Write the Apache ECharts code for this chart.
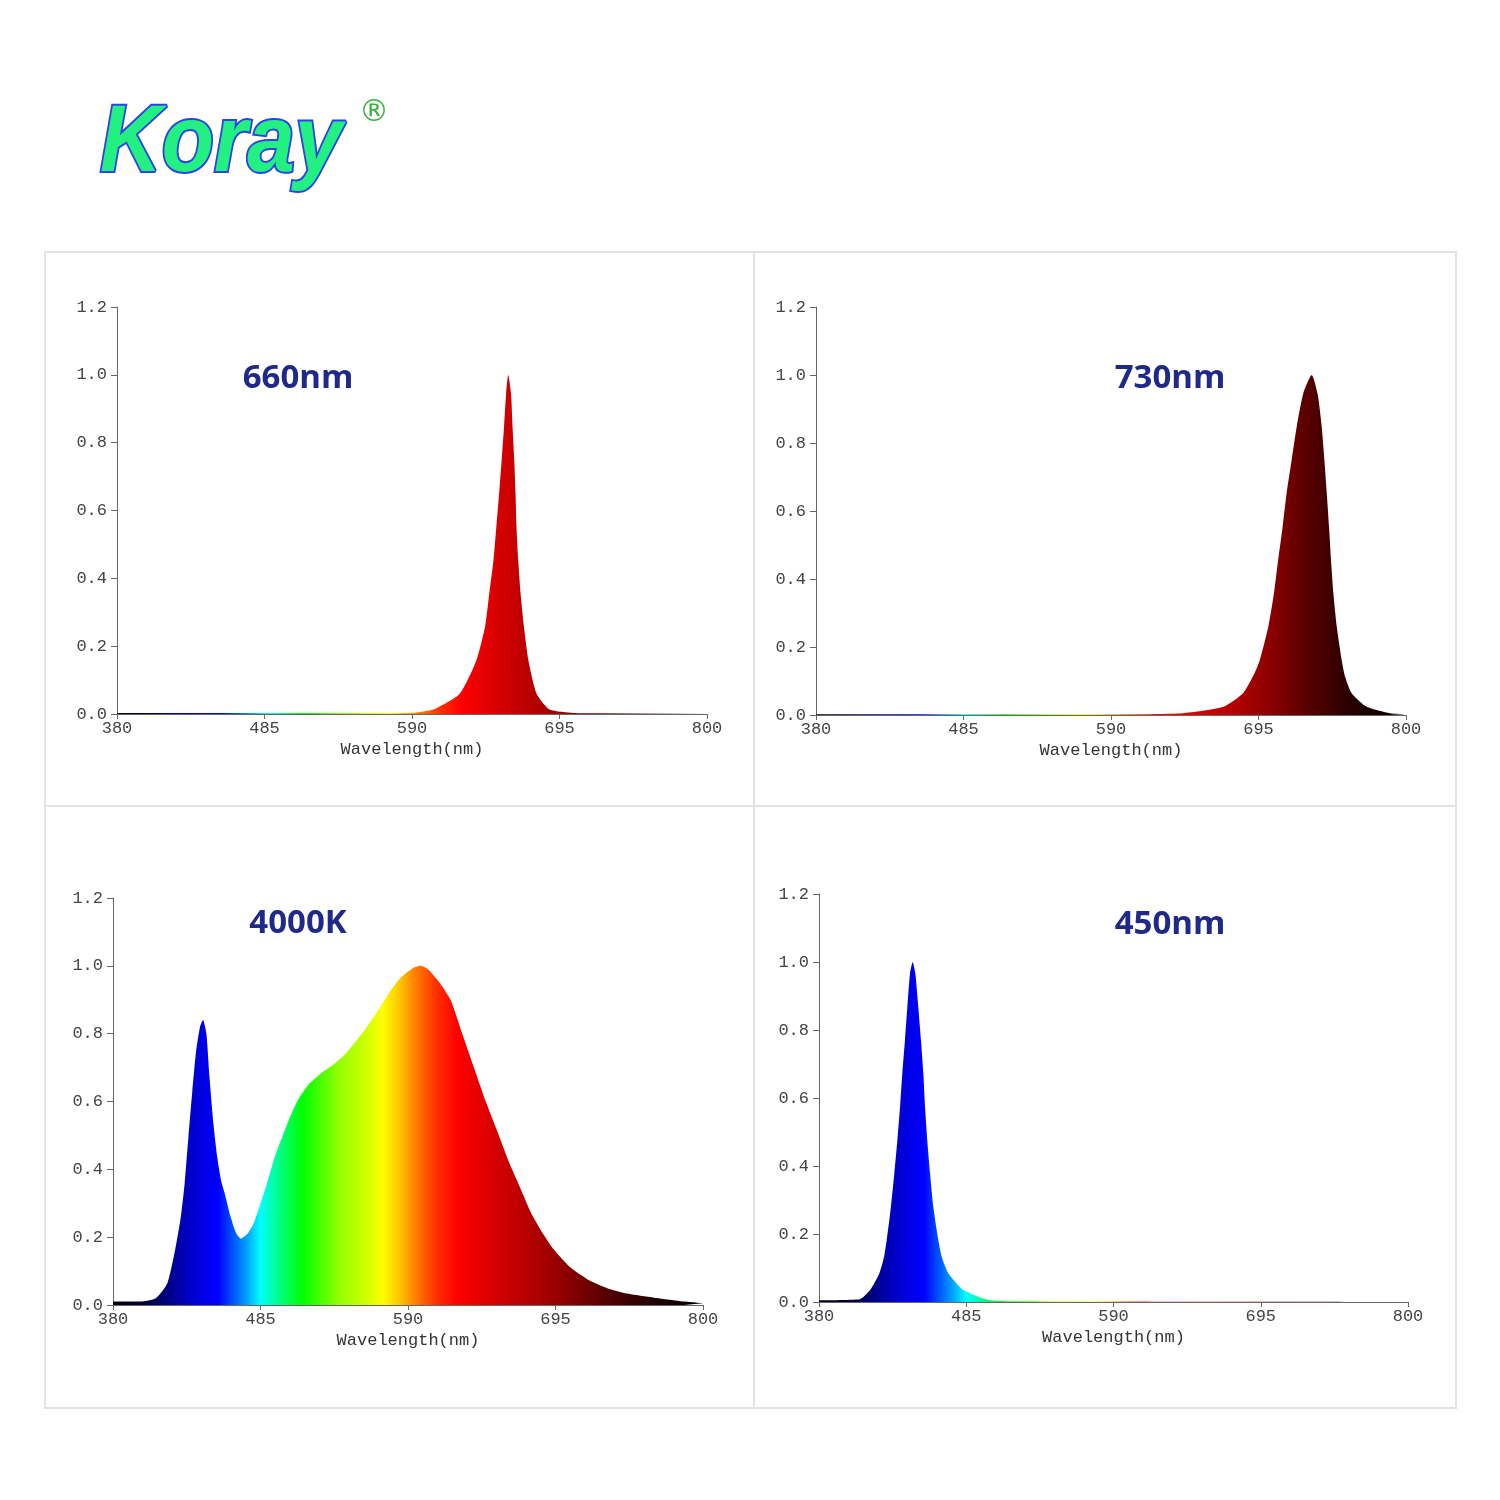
<!DOCTYPE html>
<html><head><meta charset="utf-8">
<script src="https://cdn.jsdelivr.net/npm/echarts@6/dist/echarts.min.js"></script>
<style>html,body{margin:0;padding:0;background:#fff}#c{width:1500px;height:1500px}</style>
</head><body><div id="c"></div>
<script>
// ---- data ----
const xTicks = [380, 485, 590, 695, 800];
const titles = ['660nm', '730nm', '4000K', '450nm'];
const axisName = 'Wavelength(nm)';

const wl660  = [380, 560, 591, 605, 624, 636, 642, 645, 648, 650, 652, 653.8, 655.5, 657, 658.5, 660.5, 661.6, 662.8, 663.7, 664.4, 665.6, 667.3, 669.7, 672.8, 678.7, 688, 705, 720, 800];
const val660 = [0.003, 0.003, 0.004, 0.013, 0.06, 0.16, 0.257, 0.355, 0.453, 0.55, 0.649, 0.747, 0.845, 0.944, 1.0, 0.944, 0.845, 0.747, 0.649, 0.55, 0.453, 0.355, 0.257, 0.16, 0.06, 0.013, 0.003, 0.002, 0.002];

const wl730  = [380, 600, 641, 670, 684, 691, 696, 702, 706, 709, 712.2, 715, 718.6, 722.2, 726.9, 732.9, 737, 740, 741.9, 743.6, 745.2, 746.6, 748.3, 750.7, 754.2, 756.6, 761.3, 772, 788.6, 800];
const val730 = [0.002, 0.002, 0.005, 0.024, 0.064, 0.113, 0.162, 0.26, 0.358, 0.456, 0.554, 0.652, 0.75, 0.848, 0.946, 1.0, 0.946, 0.848, 0.75, 0.652, 0.554, 0.456, 0.358, 0.26, 0.162, 0.113, 0.064, 0.024, 0.005, 0.002];

const wl4000  = [380, 399.6, 410.5, 418.7, 424.2, 428.3, 431, 433.7, 436.5, 439.2, 441.9, 444.1, 446.5, 448.7, 451.5, 454.2, 456.9, 459.6, 463.7, 467.8, 471.1, 476, 480.1, 484.2, 489.6, 495.1, 500.5, 506, 511.5, 519.6, 527.8, 536, 544.2, 552.4, 560.6, 568.7, 576.9, 585.1, 593.3, 598.7, 604.2, 612.4, 620.6, 628.7, 636.9, 645.1, 653.3, 661.4, 669.6, 677.8, 686, 694.1, 705, 718.6, 732.3, 745.9, 759.5, 773.2, 786.8, 800];
const val4000 = [0.01, 0.01, 0.02, 0.064, 0.162, 0.26, 0.358, 0.495, 0.632, 0.75, 0.819, 0.84, 0.799, 0.672, 0.534, 0.436, 0.368, 0.328, 0.26, 0.211, 0.196, 0.211, 0.24, 0.289, 0.358, 0.436, 0.495, 0.554, 0.603, 0.652, 0.682, 0.706, 0.735, 0.775, 0.819, 0.868, 0.922, 0.966, 0.993, 1.0, 0.99, 0.951, 0.897, 0.799, 0.701, 0.603, 0.515, 0.426, 0.348, 0.27, 0.211, 0.162, 0.113, 0.074, 0.049, 0.034, 0.025, 0.017, 0.01, 0.005];

const wl450  = [380, 409, 416.4, 423, 426.4, 428.3, 431.3, 433.7, 435.9, 437.8, 439.4, 441.3, 443, 444.9, 446.8, 448.7, 450.8, 452.7, 454.4, 455.6, 457.2, 459.2, 461.5, 465.1, 467.5, 472.3, 483, 499.6, 514, 800];
const val450 = [0.005, 0.008, 0.035, 0.084, 0.133, 0.182, 0.28, 0.378, 0.476, 0.574, 0.672, 0.77, 0.868, 0.966, 1.0, 0.966, 0.868, 0.77, 0.672, 0.574, 0.476, 0.378, 0.28, 0.182, 0.133, 0.084, 0.035, 0.007, 0.002, 0.0];

const seriesWl = [wl660, wl730, wl4000, wl450];
const seriesVal = [val660, val730, val4000, val450];

// ---- styling ----
const specStops = [[380,'#000010'],[400,'#000030'],[415,'#000070'],[430,'#0000b8'],[445,'#0000e8'],[455,'#0000ff'],[465,'#0050ff'],[475,'#00a0ff'],[485,'#00ffff'],[497,'#00ff90'],[515,'#00ff00'],[540,'#90ff00'],[560,'#d0ff00'],[572,'#ffff00'],[585,'#ffc000'],[595,'#ff8000'],[610,'#ff3000'],[625,'#ff0000'],[650,'#d80000'],[680,'#b00000'],[700,'#900000'],[730,'#580000'],[760,'#280000'],[800,'#000000']];
function hex2rgb(h){return [parseInt(h.substr(1,2),16),parseInt(h.substr(3,2),16),parseInt(h.substr(5,2),16)];}
function spec(l){
  for (let i=0;i<specStops.length-1;i++){
    const [a,ca]=specStops[i],[b,cb]=specStops[i+1];
    if (l>=a && l<=b){
      const t=(l-a)/(b-a), A=hex2rgb(ca), B=hex2rgb(cb);
      return 'rgb('+A.map((v,k)=>Math.round(v+(B[k]-v)*t)).join(',')+')';
    }
  }
  return '#000';
}
function grad(){
  const stops=[];
  for (let l=380;l<=800;l+=2.5) stops.push({offset:(l-380)/420,color:spec(l)});
  return {type:'linear',x:0,y:0,x2:1,y2:0,colorStops:stops};
}

const grids = [
  {left:117, top:307, width:590, height:407},
  {left:816, top:307, width:590, height:408},
  {left:113, top:898, width:590, height:407},
  {left:819, top:894, width:589, height:408}
];
const titlePos = [[298,379],[1170,379],[298,924],[1170,925]];
const mono = '"Liberation Mono", "Courier New", monospace';
const axisColor = '#666';

const option = {
  animation:false,
  backgroundColor:'#fff',
  grid: grids.map(g=>Object.assign({outerBoundsMode:'none', containLabel:false}, g)),
  xAxis: grids.map((g,i)=>({
    type:'value', gridIndex:i, min:380, max:800,
    axisLine:{show:true, onZero:false, lineStyle:{color:axisColor,width:1}},
    axisTick:{show:true, length:5, customValues:xTicks, lineStyle:{color:axisColor}},
    axisLabel:{customValues:xTicks, margin:6, fontFamily:mono, fontSize:17, color:'#444', showMinLabel:true, showMaxLabel:true, hideOverlap:false},
    splitLine:{show:false},
    name:axisName, nameLocation:'middle', nameGap:27,
    nameTextStyle:{fontFamily:mono, fontSize:17, color:'#333'}
  })),
  yAxis: grids.map((g,i)=>({
    type:'value', gridIndex:i, min:0, max:1.2, interval:0.2,
    axisLine:{show:true, lineStyle:{color:axisColor,width:1}},
    axisTick:{show:true, length:6, lineStyle:{color:axisColor}},
    axisLabel:{margin:10, fontFamily:mono, fontSize:17, color:'#444', formatter:v=>v.toFixed(1), showMinLabel:true, showMaxLabel:true},
    splitLine:{show:false}
  })),
  series: seriesWl.map((wl,i)=>({
    type:'line', xAxisIndex:i, yAxisIndex:i, silent:true,
    showSymbol:false, symbol:'none', smooth:0.2,
    data: wl.map((l,k)=>[l, seriesVal[i][k]]),
    lineStyle:{width:0, opacity:0},
    areaStyle:{color:grad(), opacity:1}
  })),
  graphic: [
    {type:'rect', shape:{x:45,y:252,width:1411,height:1156}, style:{fill:'none', stroke:'#e3e3e3', lineWidth:2}, z:-1},
    {type:'line', shape:{x1:754,y1:252,x2:754,y2:1408}, style:{stroke:'#e3e3e3', lineWidth:2}, z:-1},
    {type:'line', shape:{x1:45,y1:806,x2:1456,y2:806}, style:{stroke:'#e3e3e3', lineWidth:2}, z:-1},
    {type:'text', x:100, y:145, scaleX:0.9,
      style:{text:'Koray', font:'italic bold 95px "Liberation Sans", Arial, sans-serif', fill:'#22f080', stroke:'#2d40ea', lineWidth:4,
        align:'left', verticalAlign:'middle', shadowBlur:5, shadowColor:'rgba(0,0,0,0.45)', shadowOffsetX:2, shadowOffsetY:3}},
    {type:'text', x:374, y:113, style:{text:'®', font:'30px "DejaVu Sans", sans-serif', fill:'#3cb043', align:'center', verticalAlign:'middle'}}
  ].concat(titles.map((t,i)=>({
    type:'text', x:titlePos[i][0], y:titlePos[i][1],
    style:{text:t, font:'bold 33px "Open Sans", sans-serif', fill:'#1f2a88', align:'center', verticalAlign:'middle'}
  })))
};
const chart = echarts.init(document.getElementById('c'), null, {renderer:'canvas'});
chart.setOption(option);
</script></body></html>
